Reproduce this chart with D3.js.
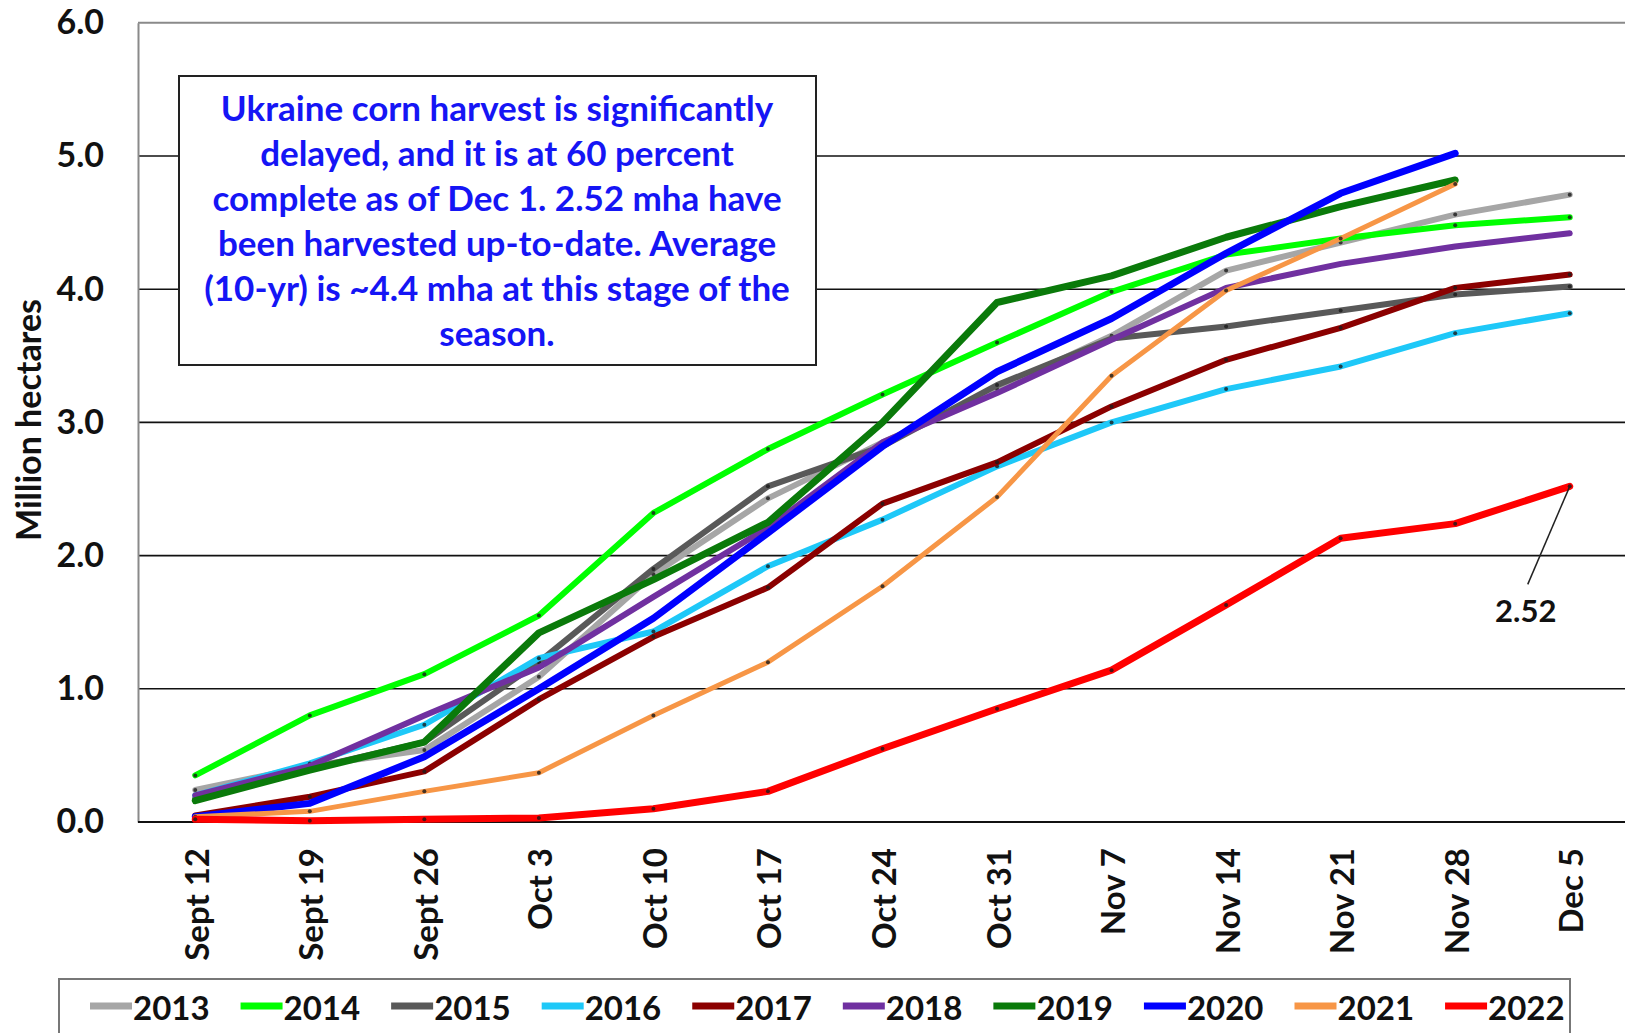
<!DOCTYPE html>
<html><head><meta charset="utf-8">
<script src="https://cdn.jsdelivr.net/npm/d3@7"></script>
<style>
html,body{margin:0;padding:0;background:#fff;}
svg{display:block;}
text{font-family:Lato,"Open Sans",sans-serif;font-weight:bold;}
</style></head>
<body>
<svg id="chart" width="1625" height="1033"></svg>
<script>
const categories = ["Sept 12","Sept 19","Sept 26","Oct 3","Oct 10","Oct 17","Oct 24","Oct 31","Nov 7","Nov 14","Nov 21","Nov 28","Dec 5"];
const yTicks = [0,1,2,3,4,5,6];
const years = ["2013","2014","2015","2016","2017","2018","2019","2020","2021","2022"];
const v2013 = [0.24,0.42,0.54,1.09,1.86,2.43,2.85,3.25,3.65,4.14,4.35,4.56,4.71];
const v2014 = [0.35,0.80,1.11,1.55,2.32,2.80,3.21,3.60,3.98,4.26,4.38,4.48,4.54];
const v2015 = [0.18,0.40,0.60,1.20,1.90,2.52,2.82,3.28,3.63,3.72,3.84,3.96,4.02];
const v2016 = [0.20,0.44,0.73,1.23,1.43,1.92,2.27,2.67,3.00,3.25,3.42,3.67,3.82];
const v2017 = [0.05,0.19,0.38,0.92,1.39,1.76,2.39,2.70,3.12,3.47,3.71,4.01,4.11];
const v2018 = [0.20,0.42,0.80,1.16,1.69,2.21,2.85,3.22,3.62,4.01,4.19,4.32,4.42];
const v2019 = [0.16,0.39,0.60,1.42,1.82,2.25,3.00,3.90,4.10,4.39,4.62,4.82];
const v2020 = [0.04,0.14,0.49,1.00,1.53,2.17,2.82,3.38,3.78,4.27,4.72,5.02];
const v2021 = [0.04,0.08,0.23,0.37,0.80,1.20,1.77,2.44,3.35,3.99,4.38,4.79];
const v2022 = [0.02,0.01,0.02,0.03,0.10,0.23,0.55,0.85,1.14,1.63,2.13,2.24,2.52];
const seriesValues = [v2013,v2014,v2015,v2016,v2017,v2018,v2019,v2020,v2021,v2022];
const colors = ["#A6A6A6","#00FF00","#595959","#1EC8F8","#8B0000","#7030A0","#0A7A0A","#0000FF","#F79646","#FF0000"];
const widths = [6,6,6,6,6,6,7,7,5,7];
const markers = [true,true,true,true,true,false,false,false,true,true];
const noteLines = ["Ukraine corn harvest is significantly","delayed, and it is at 60 percent","complete as of Dec 1. 2.52 mha have","been harvested up-to-date. Average","(10-yr) is ~4.4 mha at this stage of the","season."];
const calloutLabel = "2.52";
const yTitle = "Million hectares";

const svg = d3.select("#chart");
const L = 138, R = 1627, T = 22.8, B = 822;
const x = d3.scalePoint().domain(categories).range([L, R]).padding(0.5);
const y = d3.scaleLinear().domain([0, 6]).range([B, T]);

// gridlines
svg.append("g").selectAll("line").data(yTicks.filter(d => d > 0)).join("line")
  .attr("x1", L).attr("x2", 1625).attr("y1", d => y(d)).attr("y2", d => y(d))
  .attr("stroke", d => d === 6 ? "#8a8a8a" : "#111").attr("stroke-width", d => d === 6 ? 2 : 1.6);

// y axis
const yAxis = svg.append("g").attr("transform", `translate(${L},0)`)
  .call(d3.axisLeft(y).tickValues(yTicks).tickFormat(d3.format(".1f")).tickSize(0).tickPadding(34));
yAxis.select(".domain").attr("stroke", "#8a8a8a").attr("stroke-width", 2);
yAxis.selectAll("text").attr("font-size", 34).attr("fill", "#111").attr("font-family", "Lato").attr("font-weight", "bold");

// x axis
const xAxis = svg.append("g").attr("transform", `translate(0,${B})`)
  .call(d3.axisBottom(x).tickSize(0));
xAxis.select(".domain").attr("d", `M${L},0H1625`).attr("stroke", "#111").attr("stroke-width", 2);
xAxis.selectAll("text")
  .attr("font-size", 33).attr("fill", "#111").attr("font-family", "Lato").attr("font-weight", "bold")
  .attr("text-anchor", "end").attr("dy", null).attr("y", 0)
  .attr("dominant-baseline", "central")
  .attr("transform", "translate(0,26) rotate(-90)");

// y title
svg.append("text").attr("transform", `translate(27,420) rotate(-90)`)
  .attr("text-anchor", "middle").attr("dominant-baseline", "central")
  .attr("font-size", 34).attr("fill", "#111").text(yTitle);

// series
const line = d3.line().x((d, i) => x(categories[i])).y(d => y(d));
years.forEach((yr, k) => {
  const vals = seriesValues[k];
  svg.append("path").datum(vals).attr("d", line)
    .attr("fill", "none").attr("stroke", colors[k]).attr("stroke-width", widths[k])
    .attr("stroke-linejoin", "round").attr("stroke-linecap", "round");
  if (markers[k]) {
    svg.append("g").selectAll("circle").data(vals).join("circle")
      .attr("cx", (d, i) => x(categories[i])).attr("cy", d => y(d))
      .attr("r", 2).attr("fill", "#1a1a1a").attr("opacity", 0.8);
  }
});

// callout for last 2022 value
const lastI = v2022.length - 1;
const px = x(categories[lastI]), py = y(v2022[lastI]);
svg.append("line").attr("x1", px).attr("y1", py).attr("x2", px - 42).attr("y2", py + 98)
  .attr("stroke", "#222").attr("stroke-width", 1.5);
svg.append("text").attr("x", px - 44).attr("y", py + 124)
  .attr("text-anchor", "middle").attr("dominant-baseline", "central")
  .attr("font-size", 31).attr("fill", "#111").text(calloutLabel);

// annotation box
const box = svg.append("g");
box.append("rect").attr("x", 179).attr("y", 76).attr("width", 637).attr("height", 289)
  .attr("fill", "#fff").attr("stroke", "#222").attr("stroke-width", 2);
box.selectAll("text").data(noteLines).join("text")
  .attr("x", 497).attr("y", (d, i) => 107 + i * 45)
  .attr("text-anchor", "middle").attr("dominant-baseline", "central")
  .attr("font-size", 35).attr("fill", "#1515F5").text(d => d);

// legend
const lg = svg.append("g");
lg.append("rect").attr("x", 59).attr("y", 979).attr("width", 1511).attr("height", 70)
  .attr("fill", "#fff").attr("stroke", "#777").attr("stroke-width", 2);
let cx = 90;
years.forEach((yr, k) => {
  const g = lg.append("g");
  g.append("line").attr("x1", cx).attr("x2", cx + 42).attr("y1", 1006).attr("y2", 1006)
    .attr("stroke", colors[k]).attr("stroke-width", 7);
  const t = g.append("text").attr("x", cx + 43).attr("y", 1007)
    .attr("dominant-baseline", "central").attr("font-size", 33).attr("fill", "#111").text(yr);
  const w = t.node().getComputedTextLength();
  cx += 43 + w + 31;
});
</script>
</body></html>
